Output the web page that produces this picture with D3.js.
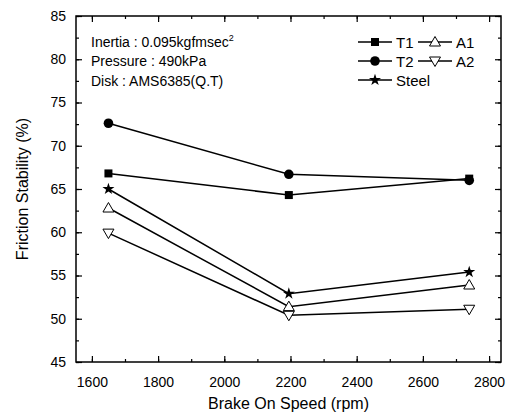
<!DOCTYPE html>
<html>
<head>
<meta charset="utf-8">
<script src="https://cdn.jsdelivr.net/npm/d3@7"></script>
<style>
  body { margin: 0; background: #fff; }
  svg { font-family: 'Liberation Sans', Arial, sans-serif; }
  .axis path, .axis line { stroke: #000; }
</style>
</head>
<body>
<svg id="chart" width="512" height="420"></svg>
<script>
var speeds = [1650, 2195, 2740]
var seriesNames = ['T1', 'T2', 'Steel', 'A1', 'A2']
var valuesT1 = [66.8, 64.3, 66.2]
var valuesT2 = [72.6, 66.7, 66.0]
var valuesSteel = [65.0, 52.9, 55.4]
var valuesA1 = [62.8, 51.4, 53.9]
var valuesA2 = [59.9, 50.4, 51.1]
var xTicks = [1600, 1800, 2000, 2200, 2400, 2600, 2800]
var yTicks = [45, 50, 55, 60, 65, 70, 75, 80, 85]
var notes = ['Inertia : 0.095kgfmsec', 'Pressure : 490kPa', 'Disk : AMS6385(Q.T)']

var svg = d3.select('#chart')
var padLeft = 76, padRight = 501, padTop = 16, padBottom = 362

var x = d3.scaleLinear().domain([1552, 2836]).range([padLeft, padRight])
var y = d3.scaleLinear().domain([45, 85]).range([padBottom, padTop])

// frame
svg.append('rect')
  .attr('x', padLeft).attr('y', padTop)
  .attr('width', padRight - padLeft).attr('height', padBottom - padTop)
  .attr('fill', 'none').attr('stroke', '#000').attr('stroke-width', 1.5)

var xMinor = d3.range(1600, 2801, 100)
var yMinor = d3.range(45, 85.1, 2.5)

// ticks, all inward, on all four sides
var _drawAxis = function(axis, tx, ty, labels) {
  var g = svg.append('g')
    .attr('class', 'axis')
    .attr('transform', 'translate(' + tx + ',' + ty + ')')
    .call(axis)
  g.select('.domain').remove()
  g.selectAll('line').attr('stroke-width', 1.2)
  g.selectAll('text')
    .attr('font-size', 14)
    .attr('fill', '#000')
  if (!labels) g.selectAll('text').remove()
  return g
}

_drawAxis(d3.axisBottom(x).tickValues(xMinor).tickSize(-3).tickFormat(''), 0, padBottom, false)
_drawAxis(d3.axisBottom(x).tickValues(xTicks).tickSizeInner(-6).tickSizeOuter(0).tickPadding(15).tickFormat(d3.format('d')), 0, padBottom, true)
_drawAxis(d3.axisTop(x).tickValues(xMinor).tickSize(-3).tickFormat(''), 0, padTop, false)
_drawAxis(d3.axisTop(x).tickValues(xTicks).tickSize(-6).tickFormat(''), 0, padTop, false)

_drawAxis(d3.axisLeft(y).tickValues(yMinor).tickSize(-3).tickFormat(''), padLeft, 0, false)
_drawAxis(d3.axisLeft(y).tickValues(yTicks).tickSizeInner(-6).tickSizeOuter(0).tickPadding(10).tickFormat(d3.format('d')), padLeft, 0, true)
_drawAxis(d3.axisRight(y).tickValues(yMinor).tickSize(-3).tickFormat(''), padRight, 0, false)
_drawAxis(d3.axisRight(y).tickValues(yTicks).tickSize(-6).tickFormat(''), padRight, 0, false)

// axis titles
svg.append('text')
  .attr('x', (padLeft + padRight) / 2).attr('y', 409)
  .attr('text-anchor', 'middle')
  .attr('font-size', 16)
  .text('Brake On Speed (rpm)')

svg.append('text')
  .attr('transform', 'translate(28,' + (padTop + padBottom) / 2 + ') rotate(-90)')
  .attr('text-anchor', 'middle')
  .attr('font-size', 16)
  .text('Friction Stability (%)')

// annotation
var note = svg.append('g').attr('font-size', 14)
notes.forEach(function(str, i) {
  var t = note.append('text')
    .attr('x', 91).attr('y', 47 + i * 19.3)
    .text(str)
  if (i === 0) {
    t.append('tspan').attr('dy', -6).attr('font-size', 9).text('2')
  }
})

// markers
var _marker = function(g, kind, cx, cy) {
  if (kind === 'square') {
    g.append('rect').attr('x', cx - 4).attr('y', cy - 4).attr('width', 8).attr('height', 8).attr('fill', '#000')
  } else if (kind === 'circle') {
    g.append('circle').attr('cx', cx).attr('cy', cy).attr('r', 4.8).attr('fill', '#000')
  } else if (kind === 'star') {
    g.append('path')
      .attr('d', d3.symbol().type(d3.symbolStar).size(45)())
      .attr('transform', 'translate(' + cx + ',' + cy + ')')
      .attr('fill', '#000')
  } else if (kind === 'up') {
    g.append('path')
      .attr('d', 'M0,-5.5L5.5,4L-5.5,4Z')
      .attr('transform', 'translate(' + cx + ',' + cy + ')')
      .attr('fill', '#fff').attr('stroke', '#000').attr('stroke-width', 1)
  } else if (kind === 'down') {
    g.append('path')
      .attr('d', 'M0,5.5L5.5,-4L-5.5,-4Z')
      .attr('transform', 'translate(' + cx + ',' + cy + ')')
      .attr('fill', '#fff').attr('stroke', '#000').attr('stroke-width', 1)
  }
}

var series = [
  { name: 'T1', values: valuesT1, kind: 'square' },
  { name: 'T2', values: valuesT2, kind: 'circle' },
  { name: 'Steel', values: valuesSteel, kind: 'star' },
  { name: 'A1', values: valuesA1, kind: 'up' },
  { name: 'A2', values: valuesA2, kind: 'down' }
]

var line = d3.line()
  .x(function(d) { return x(d[0]) })
  .y(function(d) { return y(d[1]) })

series.forEach(function(s) {
  var pts = speeds.map(function(v, i) { return [v, s.values[i]] })
  var g = svg.append('g').attr('class', 'series')
  g.append('path')
    .attr('d', line(pts))
    .attr('fill', 'none')
    .attr('stroke', '#000')
    .attr('stroke-width', 1.5)
  pts.forEach(function(p) { _marker(g, s.kind, x(p[0]), y(p[1])) })
})

// legend
var legendPos = {
  T1: [358, 42], T2: [358, 61], Steel: [358, 80],
  A1: [418, 42], A2: [418, 61]
}
var legend = svg.append('g').attr('font-size', 15)
series.forEach(function(s) {
  var p = legendPos[s.name]
  legend.append('line')
    .attr('x1', p[0]).attr('x2', p[0] + 34)
    .attr('y1', p[1]).attr('y2', p[1])
    .attr('stroke', '#000').attr('stroke-width', 1.5)
  _marker(legend, s.kind, p[0] + 17, p[1])
  legend.append('text')
    .attr('x', p[0] + 38).attr('y', p[1] + 5.5)
    .text(s.name)
})
</script>
</body>
</html>
